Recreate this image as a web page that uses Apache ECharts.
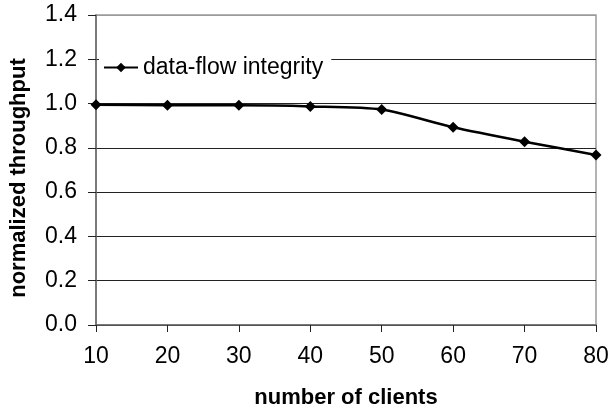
<!DOCTYPE html>
<html>
<head>
<meta charset="utf-8">
<script src="https://cdn.jsdelivr.net/npm/echarts@6/dist/echarts.min.js"></script>
<style>
html,body{margin:0;padding:0;background:#fff;}
#chart{width:612px;height:409px;}
</style>
</head>
<body>
<div id="chart"></div>
<script>
var clients = ['10', '20', '30', '40', '50', '60', '70', '80'];
var throughput = [0.995, 0.992, 0.992, 0.987, 0.973, 0.893, 0.828, 0.768];
var seriesName = 'data-flow integrity';
var yTicks = [0, 0.2, 0.4, 0.6, 0.8, 1.0, 1.2, 1.4];

var chart = echarts.init(document.getElementById('chart'), null, {renderer: 'canvas'});
var font = 'Liberation Sans, Arial, sans-serif';
chart.setOption({
  animation: false,
  backgroundColor: '#fff',
  grid: {left: 96, right: 16, top: 15, bottom: 84, containLabel: false, outerBoundsMode: 'none',
    show: true, borderColor: '#9a9a9a', borderWidth: 1.5, backgroundColor: 'transparent'},
  legend: {
    left: 99, top: 55,
    data: [seriesName],
    backgroundColor: '#fff',
    padding: [1, 8, 1, 4],
    itemWidth: 34, itemHeight: 12, itemGap: 4,
    textStyle: {fontFamily: font, fontSize: 23, color: '#000'}
  },
  xAxis: {
    type: 'category',
    data: clients,
    boundaryGap: false,
    name: 'number of clients',
    nameLocation: 'middle',
    nameGap: 62,
    nameTextStyle: {fontFamily: font, fontSize: 22, fontWeight: 'bold', color: '#000'},
    axisLine: {lineStyle: {color: '#666', width: 1.5}},
    axisTick: {show: true, length: 7, alignWithLabel: true, lineStyle: {color: '#222', width: 1}},
    axisLabel: {fontFamily: font, fontSize: 23, color: '#000', margin: 20},
    splitLine: {show: false}
  },
  yAxis: {
    type: 'value',
    min: yTicks[0], max: yTicks[yTicks.length - 1], interval: 0.2,
    name: 'normalized throughput',
    nameLocation: 'middle',
    nameGap: 66,
    nameTextStyle: {fontFamily: font, fontSize: 22, fontWeight: 'bold', color: '#000', padding: [0, 16, 0, 0]},
    axisLine: {show: true, lineStyle: {color: '#666', width: 1.5}},
    axisTick: {show: true, length: 8, lineStyle: {color: '#222', width: 1}},
    axisLabel: {fontFamily: font, fontSize: 23, color: '#000', margin: 19,
      formatter: function (v) { return v.toFixed(1); }},
    splitLine: {show: true, lineStyle: {color: ['#222', '#222', '#222', '#222', '#222', '#222', '#222', '#9a9a9a'], width: 1}}
  },
  series: [{
    name: seriesName,
    type: 'line',
    data: throughput,
    smooth: 0.25,
    symbol: 'diamond',
    symbolSize: 11,
    itemStyle: {color: '#000'},
    lineStyle: {color: '#000', width: 2.5}
  }]
});
</script>
</body>
</html>
